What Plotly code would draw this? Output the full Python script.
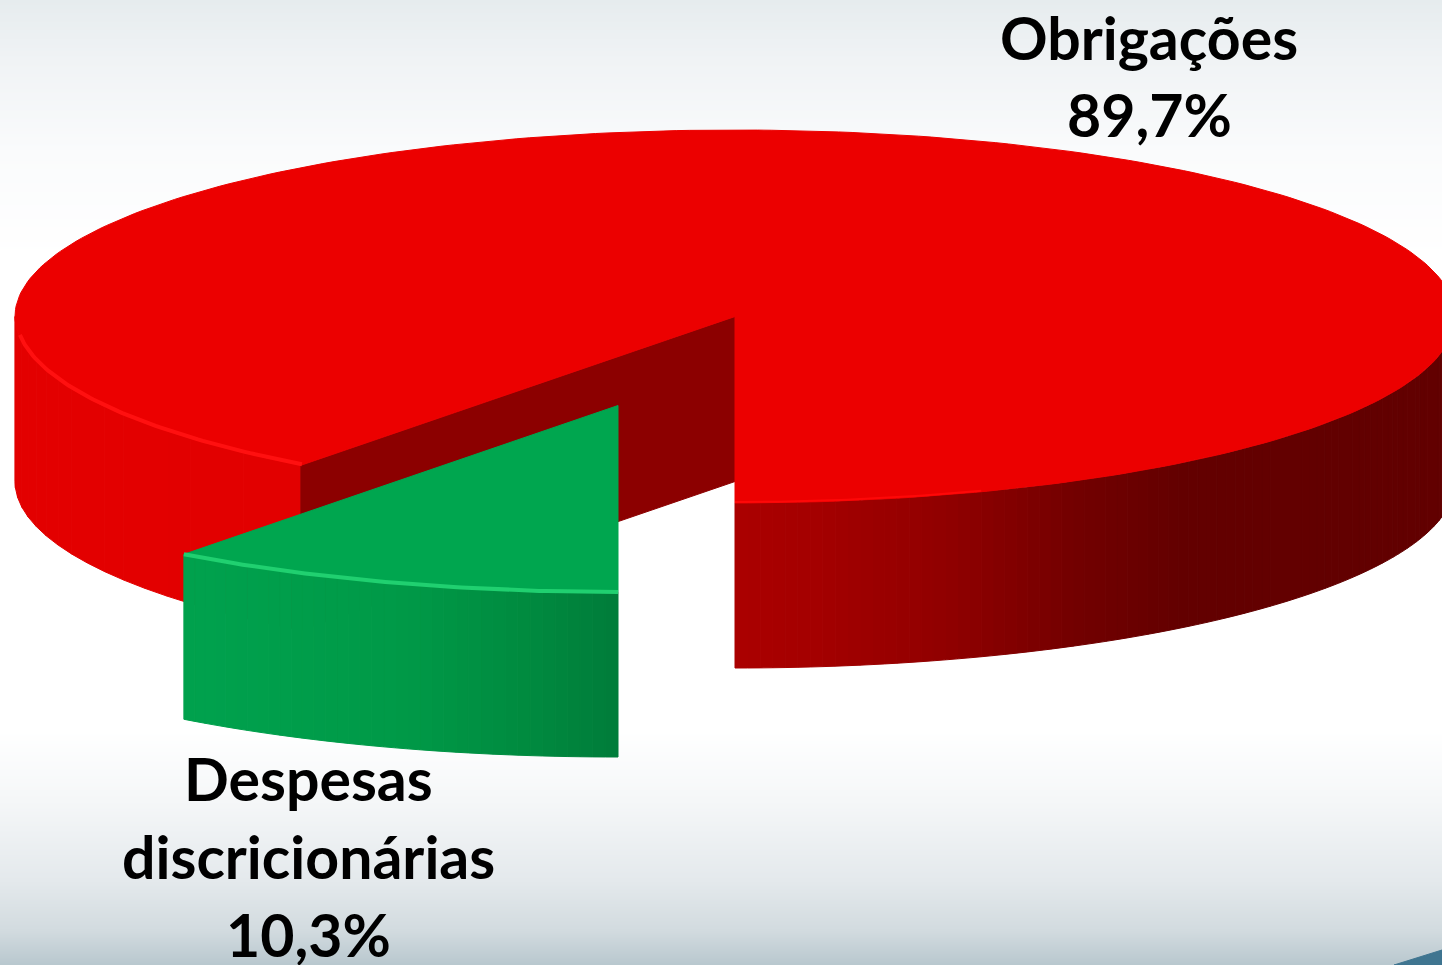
import numpy as np
import plotly.graph_objects as go

# Data
categories = ["Obrigações", "Despesas discricionárias"]
values = [89.7, 10.3]
label_lines = [["Obrigações", "89,7%"], ["Despesas", "discricionárias", "10,3%"]]

# Pie geometry (canvas pixels)
W, H = 1442, 965
CX, CY, RX, RY, DEPTH = 735, 316.5, 720, 186.5, 165
EXPLODE = (-117, 89)

sweep = values[1] / sum(values) * 360.0  # green slice angle, measured clockwise from 6 o'clock


def rim(theta_deg, dx=0, dy=0, drop=0):
    t = np.radians(theta_deg)
    return CX + dx - RX * np.sin(t), CY + dy + drop + RY * np.cos(t)


def hex2rgb(h):
    return np.array([int(h[i:i + 2], 16) for i in (1, 3, 5)], float)


def ramp(x, stops):
    xs = [s[0] for s in stops]
    cs = np.array([hex2rgb(s[1]) for s in stops])
    return "rgb(%d,%d,%d)" % tuple(np.interp(x, xs, cs[:, i]) for i in range(3))


fig = go.Figure()

# Slide background
bg_stops = [(0, "#e6ecee"), (60, "#f0f3f5"), (150, "#fafbfc"), (260, "#ffffff"), (730, "#ffffff"),
            (800, "#f5f7f8"), (880, "#e4e9ec"), (930, "#d2dbdf"), (965, "#b8c7ce")]
ys = np.arange(0, H + 2, 2)
bg_pos = np.array([s[0] for s in bg_stops]) / H
colorscale = [[float(p), s[1]] for p, s in zip(bg_pos, bg_stops)]
fig.add_trace(go.Heatmap(x=[0, W], y=ys, z=[[float(y) / H] * 2 for y in ys], colorscale=colorscale,
                         zmin=0, zmax=1, showscale=False, hoverinfo="skip", zsmooth="best"))


def poly(x, y, color, name=None):
    fig.add_trace(go.Scatter(x=x, y=y, mode="lines", fill="toself", fillcolor=color,
                             line=dict(color=color, width=1), hoverinfo="skip", showlegend=False))


def side(t0, t1, stops, dx=0, dy=0, step=1.0):
    edges = np.arange(t0, t1 + step, step)
    edges[-1] = t1
    for a, b in zip(edges[:-1], edges[1:]):
        arc = np.linspace(a, b, 5)
        xt, yt = rim(arc, dx, dy)
        xb, yb = rim(arc[::-1], dx, dy, DEPTH)
        xm = float(rim((a + b) / 2, dx, dy)[0])
        poly(np.r_[xt, xb, xt[0]], np.r_[yt, yb, yt[0]], ramp(xm, stops))


red_left = [(15, "#e40000"), (300, "#e20000")]
red_right = [(735, "#ab0000"), (820, "#a40000"), (950, "#900000"), (1080, "#720000"), (1180, "#640000"), (1442, "#620000")]
green_side = [(185, "#00a24e"), (400, "#009a48"), (520, "#008c40"), (620, "#007c3a")]

# Red side walls (only the parts facing the viewer)
side(sweep, 90, red_left, step=3.0)
side(270, 360, red_right)

# Inner wall of the cut-out
xe, ye = rim(sweep)
poly([CX, xe, xe, CX, CX], [CY, ye, ye + DEPTH, CY + DEPTH, CY], "#8c0000")

# Red top
arc = np.linspace(sweep, 360, 300)
xa, ya = rim(arc)
poly(np.r_[CX, xa, CX], np.r_[CY, ya, CY], "#ec0000")

# Red rim highlights
arc = np.linspace(sweep, 84, 80)
xa, ya = rim(arc)
fig.add_trace(go.Scatter(x=xa + 1, y=ya - 1, mode="lines", line=dict(color="#ff1010", width=4),
                         hoverinfo="skip", showlegend=False))
arc = np.linspace(340, 360, 30)
xa, ya = rim(arc)
fig.add_trace(go.Scatter(x=xa, y=ya - 1, mode="lines", line=dict(color="#ff0808", width=2),
                         hoverinfo="skip", showlegend=False))

# Green exploded slice
side(0, sweep, green_side, *EXPLODE, step=1.0)
arc = np.linspace(0, sweep, 60)
xa, ya = rim(arc, *EXPLODE)
ax, ay = CX + EXPLODE[0], CY + EXPLODE[1]
poly(np.r_[ax, xa, ax], np.r_[ay, ya, ay], "#00a64f")
fig.add_trace(go.Scatter(x=xa, y=ya, mode="lines", line=dict(color="#20d070", width=4),
                         hoverinfo="skip", showlegend=False))

# Corner of the slide logo
poly([1394, 1442, 1442, 1394], [965, 950, 965, 965], "#3f7590")

# Labels
positions = {0: (1149, [37, 114]), 1: (308, [778, 856, 934])}
for i, lines in enumerate(label_lines):
    px, pys = positions[i]
    for txt, py in zip(lines, pys):
        fig.add_annotation(x=px, y=py, text="<b>%s</b>" % txt, showarrow=False, xanchor="center", yanchor="middle",
                           font=dict(family="Lato", size=59, color="#000000"))

fig.update_layout(
    width=W, height=H, margin=dict(l=0, r=0, t=0, b=0), showlegend=False,
    paper_bgcolor="white", plot_bgcolor="white",
    xaxis=dict(range=[0, W], visible=False, fixedrange=True),
    yaxis=dict(range=[H, 0], visible=False, fixedrange=True),
)
fig.write_html("out.html", config={"displayModeBar": False},
               post_script="document.body.style.margin='0';document.documentElement.style.overflow='hidden';")
